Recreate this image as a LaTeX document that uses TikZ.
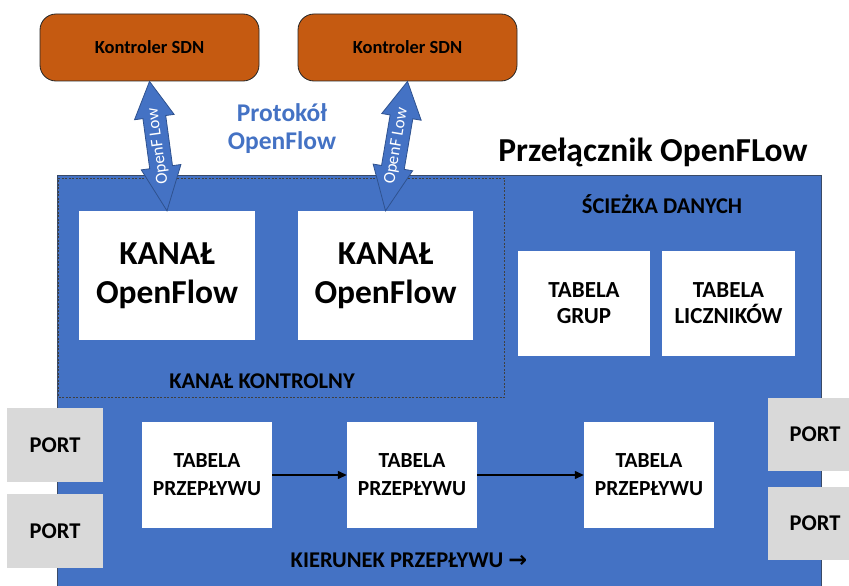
\documentclass[tikz,border=0pt]{standalone}
\usepackage{fontspec}
\setmainfont{Carlito}
\newfontfamily\symfont{DejaVu Sans}
\usetikzlibrary{calc,arrows.meta}
\definecolor{ctrlorange}{HTML}{C55A11}
\definecolor{swblue}{HTML}{4472C4}
\definecolor{swedge}{HTML}{3A4A66}
\definecolor{arredge}{HTML}{2F528F}
\definecolor{protoblue}{HTML}{4472C4}
\definecolor{portgray}{HTML}{D9D9D9}

\tikzset{
  ctrlbox/.style={draw=black!85, line width=0.8pt, fill=ctrlorange, rounded corners=16pt,
    minimum width=219pt, minimum height=67pt, font=\bfseries\fontsize{18.5}{22}\selectfont},
  whitebox/.style={fill=white, inner sep=0pt, align=center},
  portbox/.style={fill=portgray, inner sep=0pt, minimum width=96pt, minimum height=74pt,
    font=\bfseries\fontsize{22.5}{26}\selectfont},
  flowbox/.style={whitebox, minimum width=130pt, minimum height=106pt,
    font=\bfseries\fontsize{21.5}{28}\selectfont},
  groupbox/.style={whitebox, minimum height=105pt,
    font=\bfseries\fontsize{23}{26}\selectfont},
  chanbox/.style={whitebox, minimum height=129pt,
    font=\bfseries\fontsize{33.5}{39}\selectfont},
  flowarrow/.style={draw=black, line width=1.3pt, -{Triangle[length=9pt,width=8pt]}},
  fatarrow/.style={fill=swblue, draw=arredge, line width=0.8pt, line join=miter},
  sectionlabel/.style={font=\bfseries\fontsize{22.5}{26}\selectfont},
}

% fat double-headed arrow between two named points (#1 top, #2 bottom)
\newcommand\fatarrow[2]{%
  \draw[fatarrow] (#1)
    -- ($(#1)!36pt!(#2)!20pt!90:(#2)$)
    -- ($(#1)!36pt!(#2)!11.5pt!90:(#2)$)
    -- ($(#2)!44pt!(#1)!11.5pt!-90:(#1)$)
    -- ($(#2)!44pt!(#1)!20pt!-90:(#1)$)
    -- (#2)
    -- ($(#2)!44pt!(#1)!20pt!90:(#1)$)
    -- ($(#2)!44pt!(#1)!11.5pt!90:(#1)$)
    -- ($(#1)!36pt!(#2)!11.5pt!-90:(#2)$)
    -- ($(#1)!36pt!(#2)!20pt!-90:(#2)$)
    -- cycle;}

\begin{document}
\begin{tikzpicture}[x=1pt,y=-1pt]
  \useasboundingbox (0,0) rectangle (849,586);
  \clip (0,0) rectangle (849,586);

  % controllers
  \node[ctrlbox] (c1) at (149.5,47.5) {Kontroler SDN};
  \node[ctrlbox] (c2) at (407.5,47.5) {Kontroler SDN};

  % protocol label and switch title
  \node[font=\bfseries\fontsize{25.5}{28}\selectfont, text=protoblue, align=center]
    (proto) at (282,129) {Protokół\\OpenFlow};
  \node[font=\bfseries\fontsize{33.5}{38}\selectfont] (title) at (653,152) {Przełącznik OpenFLow};

  % switch body
  \node[fill=swblue, draw=swedge, line width=0.8pt, minimum width=764pt, minimum height=430pt,
        inner sep=0pt] (sw) at (439,390) {};
  % control channel area
  \node[draw=black!75, dash pattern=on 2pt off 1.5pt, line width=0.6pt,
        minimum width=446pt, minimum height=219pt, inner sep=0pt] (cc) at (281.5,287.5) {};
  \node[sectionlabel] (cclabel) at (262,381) {KANAŁ KONTROLNY};
  \node[sectionlabel] (dplabel) at (662,204) {ŚCIEŻKA DANYCH};

  % OpenFlow channels
  \node[chanbox, minimum width=176pt] (k1) at (167,275.5) {KANAŁ\\OpenFlow};
  \node[chanbox, minimum width=175pt] (k2) at (385.5,275.5) {KANAŁ\\OpenFlow};

  % group and meter tables
  \node[groupbox, minimum width=132pt] (grp) at (584,303.5) {TABELA\\GRUP};
  \node[groupbox, minimum width=133pt] (lic) at (728.5,303.5) {TABELA\\LICZNIKÓW};

  % ports
  \node[portbox] (pl1) at (55,445) {PORT};
  \node[portbox] (pl2) at (55,531) {PORT};
  \node[portbox, minimum width=94pt, minimum height=73pt] (pr1) at (815,434.5) {PORT};
  \node[portbox, minimum width=94pt, minimum height=73pt] (pr2) at (815,523.5) {PORT};

  % flow tables
  \node[flowbox] (f1) at (207,475) {TABELA\\PRZEPŁYWU};
  \node[flowbox] (f2) at (412,475) {TABELA\\PRZEPŁYWU};
  \node[flowbox] (f3) at (649,475) {TABELA\\PRZEPŁYWU};
  \draw[flowarrow] (f1) -- (f2);
  \draw[flowarrow] (f2) -- (f3);
  \node[sectionlabel] (dir) at (409,560) {KIERUNEK PRZEPŁYWU {\symfont\bfseries →}};

  % OpenFlow links between controllers and channels
  \fatarrow{c1.south}{k1.north}
  \fatarrow{c2.south}{k2.north}
  \path (k1.north) -- (c1.south) node[midway, sloped, allow upside down, text=white,
        font=\fontsize{17}{19}\selectfont] (of1) {OpenF Low};
  \path (k2.north) -- (c2.south) node[midway, sloped, allow upside down, text=white,
        font=\fontsize{17}{19}\selectfont] (of2) {OpenF Low};
\end{tikzpicture}
\end{document}
